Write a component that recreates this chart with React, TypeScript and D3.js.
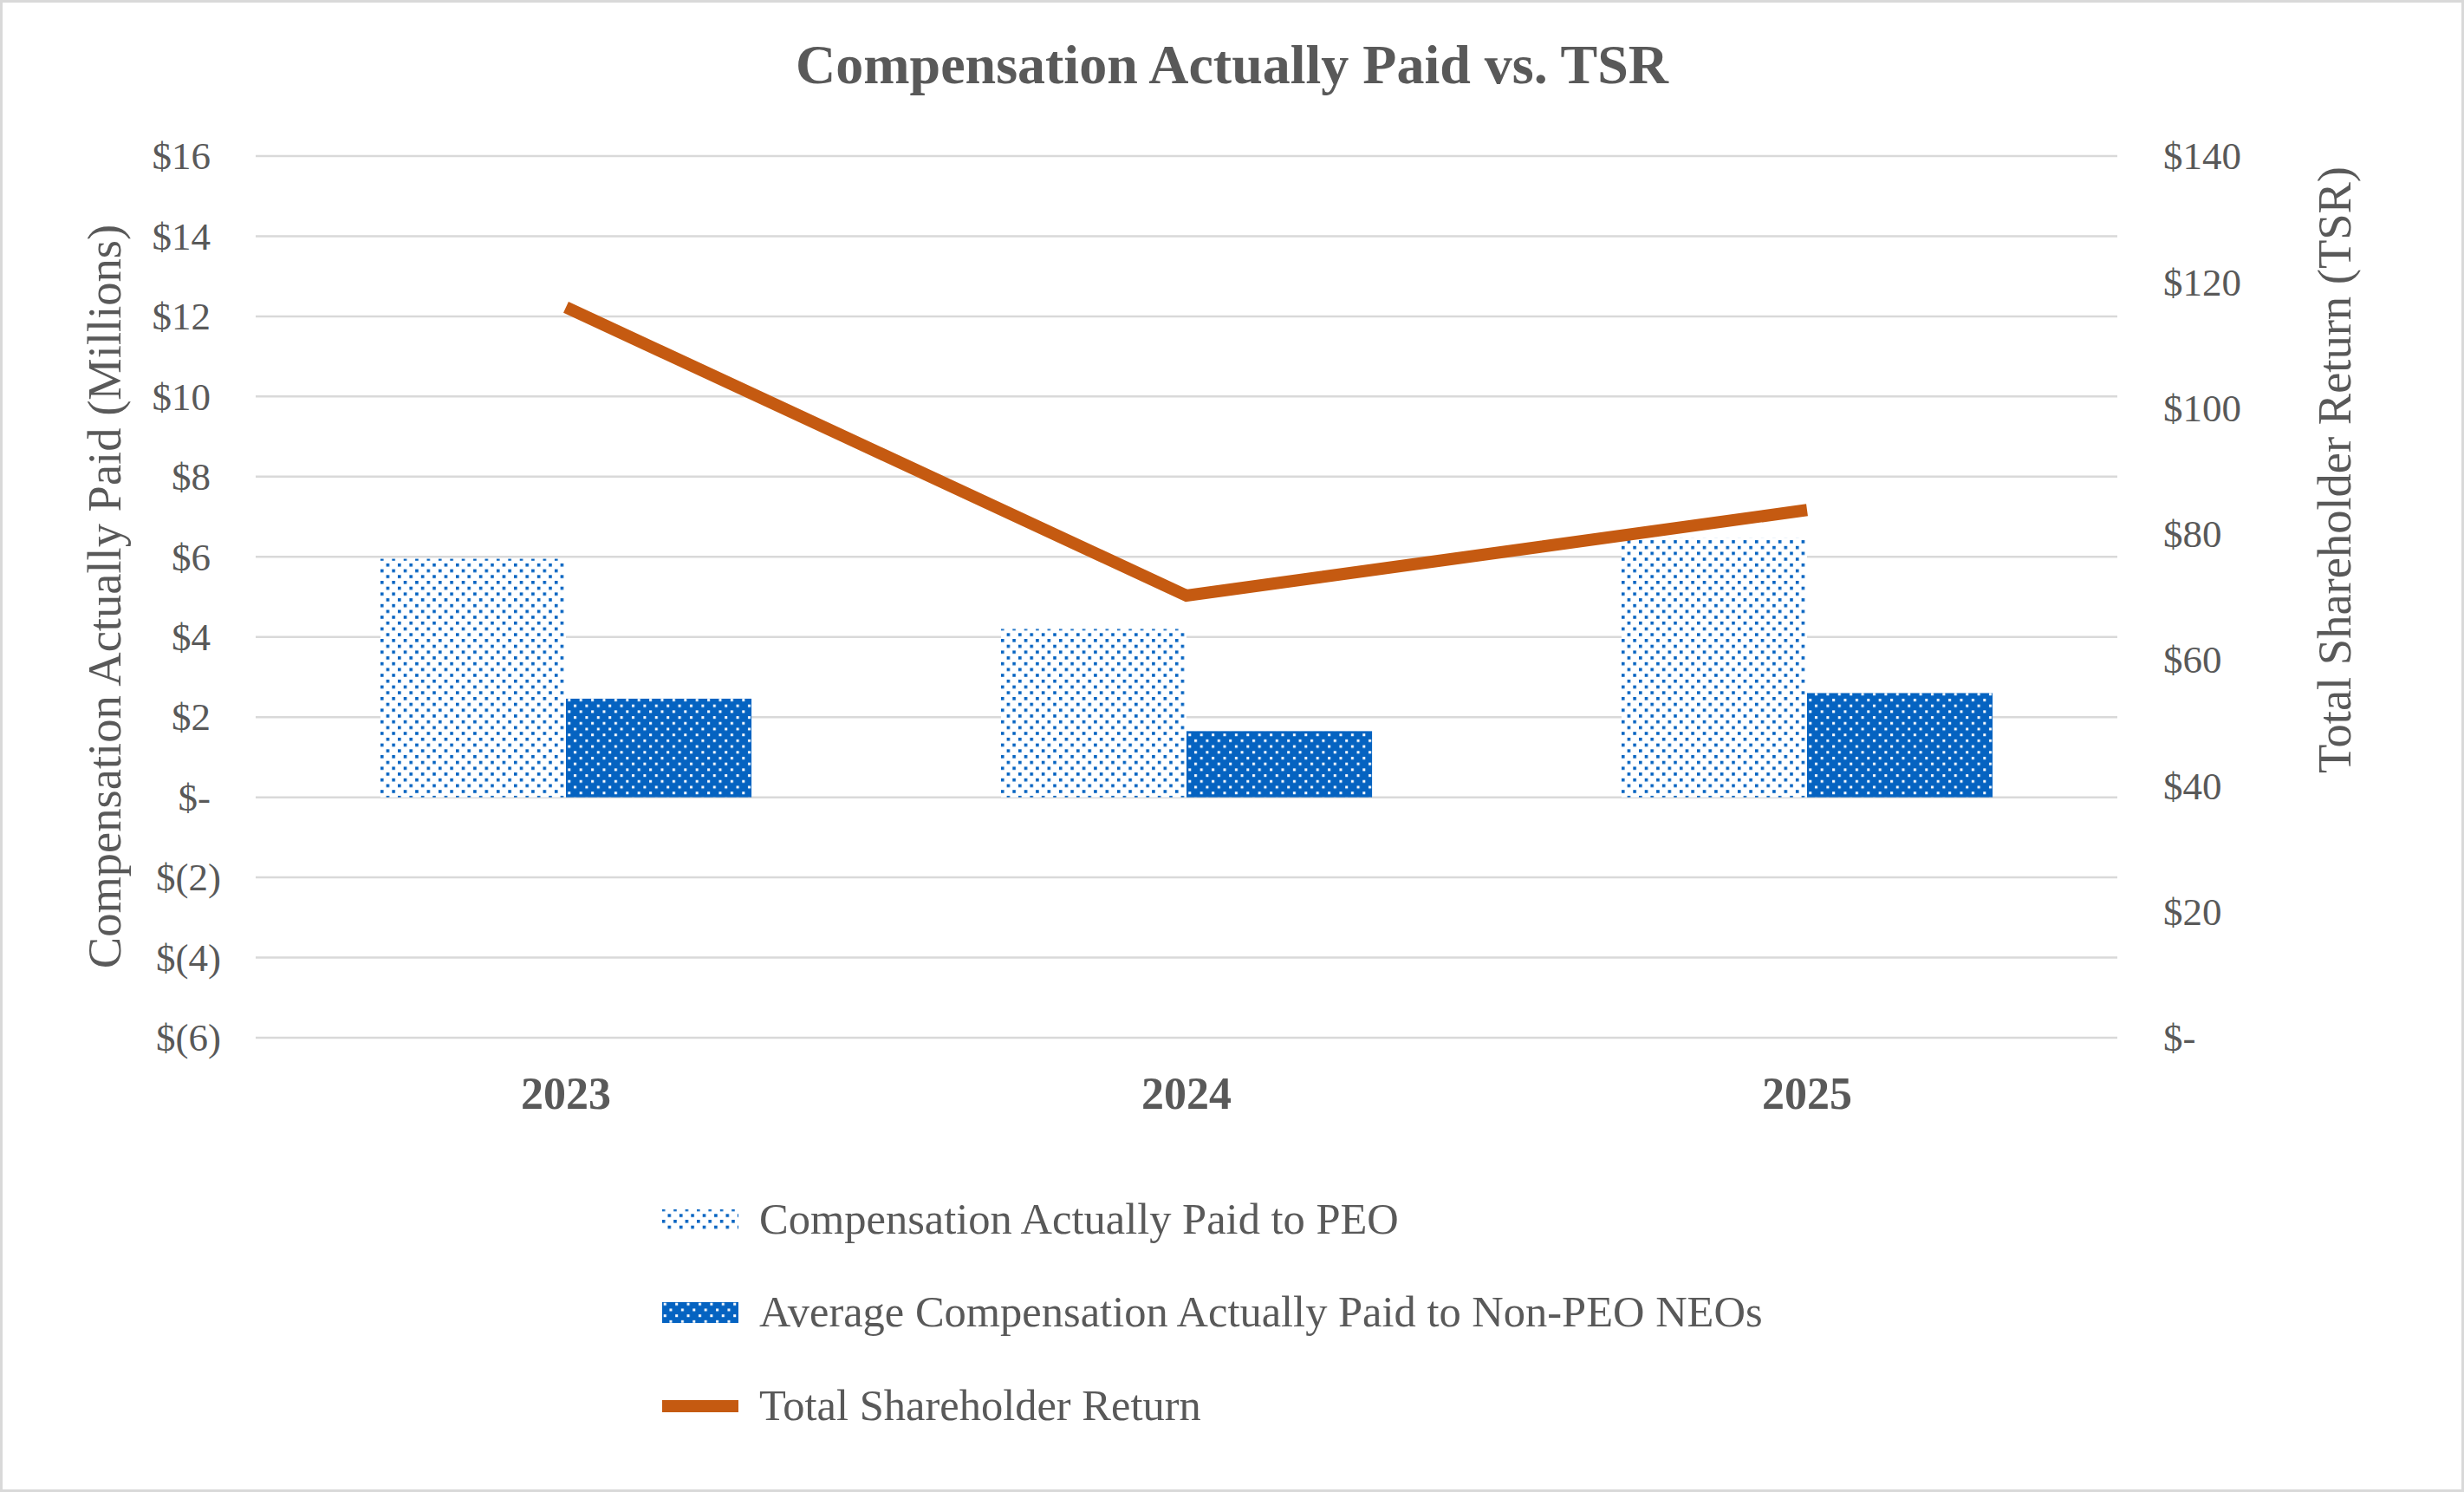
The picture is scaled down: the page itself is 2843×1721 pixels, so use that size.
import React from 'react';
import * as d3 from 'd3';

// values
const years = ['2023', '2024', '2025'];
const peoCap = [5.95, 4.2, 6.47];
const neoCap = [2.46, 1.65, 2.6];
const tsr = [116, 70.2, 83.8];
const leftTicks = [-6, -4, -2, 0, 2, 4, 6, 8, 10, 12, 14, 16];
const rightTicks = [0, 20, 40, 60, 80, 100, 120, 140];
const seriesNames = [
  'Compensation Actually Paid to PEO',
  'Average Compensation Actually Paid to Non-PEO NEOs',
  'Total Shareholder Return',
];

const W = 2843;
const H = 1721;
const plot = { left: 295, right: 2443, top: 180, bottom: 1197 };
const font = '"Liberation Serif", "Times New Roman", serif';
const textColor = '#595959';
const blue = '#0563C1';
const orange = '#C55A11';

const fmtLeft = (v: number) => (v === 0 ? '$-' : v < 0 ? `$(${-v})` : `$${v}`);
const fmtRight = (v: number) => (v === 0 ? '$-' : `$${v}`);

export default function App() {
  const x = d3.scaleBand<string>()
    .domain(years)
    .range([plot.left, plot.right])
    .paddingInner(0.402)
    .paddingOuter(0.201);

  const xSeries = d3.scaleBand<string>()
    .domain(['peo', 'neo'])
    .range([0, x.bandwidth()]);

  const yLeft = d3.scaleLinear().domain([-6, 16]).range([plot.bottom, plot.top]);
  const yRight = d3.scaleLinear().domain([0, 140]).range([plot.bottom, plot.top]);

  const center = (yr: string) => (x(yr) as number) + x.bandwidth() / 2;

  const line = d3.line<number>()
    .x((_, i) => center(years[i]))
    .y(d => yRight(d));

  const legendX = 764;
  const legendRows = [1407, 1514, 1622];

  return (
    <svg
      width={W}
      height={H}
      style={{ position: 'absolute', left: 0, top: 0, background: '#fff' }}
      fontFamily={font}
    >
      <defs>
        <pattern id="peoPat" patternUnits="userSpaceOnUse" width={13.4} height={13.4}>
          <rect width={13.4} height={13.4} fill="#fff" />
          <rect x={0} y={0} width={3.6} height={3.6} fill={blue} />
          <rect x={6.7} y={6.7} width={3.6} height={3.6} fill={blue} />
        </pattern>
        <pattern id="neoPat" patternUnits="userSpaceOnUse" width={13.4} height={13.4}>
          <rect width={13.4} height={13.4} fill={blue} />
          <rect x={2} y={2} width={3} height={3} fill="#fff" />
          <rect x={8.7} y={8.7} width={3} height={3} fill="#fff" />
        </pattern>
      </defs>

      <rect x={1.5} y={1.5} width={W - 3} height={H - 3} fill="#fff" stroke="#D9D9D9" strokeWidth={3} />

      <text x={W / 2} y={96} textAnchor="middle" fontSize={64} fontWeight="bold" fill={textColor}>
        Compensation Actually Paid vs. TSR
      </text>

      {/* gridlines */}
      {leftTicks.map(t => (
        <line key={t} x1={plot.left} x2={plot.right} y1={yLeft(t)} y2={yLeft(t)} stroke="#D9D9D9" strokeWidth={2.5} />
      ))}

      {/* left ticks */}
      {leftTicks.map(t => (
        <text key={t} x={t < 0 ? 255 : 243} y={yLeft(t)} dy="0.34em" textAnchor="end" fontSize={45} fill={textColor}>
          {fmtLeft(t)}
        </text>
      ))}

      {/* right ticks */}
      {rightTicks.map(t => (
        <text key={t} x={2496} y={yRight(t)} dy="0.34em" textAnchor="start" fontSize={45} fill={textColor}>
          {fmtRight(t)}
        </text>
      ))}

      {/* bars */}
      {years.map((yr, i) => (
        <g key={yr} transform={`translate(${x(yr)},0)`}>
          <rect
            x={xSeries('peo')}
            y={yLeft(peoCap[i])}
            width={xSeries.bandwidth()}
            height={yLeft(0) - yLeft(peoCap[i])}
            fill="url(#peoPat)"
          />
          <rect
            x={xSeries('neo')}
            y={yLeft(neoCap[i])}
            width={xSeries.bandwidth()}
            height={yLeft(0) - yLeft(neoCap[i])}
            fill="url(#neoPat)"
          />
        </g>
      ))}

      {/* TSR line */}
      <path d={line(tsr) || ''} fill="none" stroke={orange} strokeWidth={14} strokeLinejoin="miter" strokeLinecap="butt" />

      {/* category labels */}
      {years.map(yr => (
        <text key={yr} x={center(yr)} y={1279} textAnchor="middle" fontSize={52} fontWeight="bold" fill={textColor}>
          {yr}
        </text>
      ))}

      {/* axis titles */}
      <text transform="translate(139,688) rotate(-90)" textAnchor="middle" fontSize={54.5} fill={textColor}>
        Compensation Actually Paid (Millions)
      </text>
      <text transform="translate(2712,542) rotate(-90)" textAnchor="middle" fontSize={54.5} fill={textColor}>
        Total Shareholder Return (TSR)
      </text>

      {/* legend */}
      <rect x={legendX} y={legendRows[0] - 12} width={88} height={24} fill="url(#peoPat)" />
      <rect x={legendX} y={legendRows[1] - 12} width={88} height={24} fill="url(#neoPat)" />
      <rect x={legendX} y={legendRows[2] - 7} width={88} height={14} fill={orange} />
      {seriesNames.map((name, i) => (
        <text key={name} x={876} y={legendRows[i] + 16} fontSize={50.5} fill={textColor}>
          {name}
        </text>
      ))}
    </svg>
  );
}
